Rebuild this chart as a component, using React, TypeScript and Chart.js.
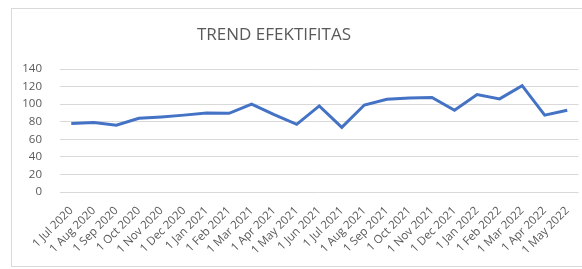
import React, { useEffect, useRef } from "react";
import { Chart, registerables } from "chart.js";
Chart.register(...registerables);

const categories = [
  "1 Jul 2020", "1 Aug 2020", "1 Sep 2020", "1 Oct 2020", "1 Nov 2020", "1 Dec 2020",
  "1 Jan 2021", "1 Feb 2021", "1 Mar 2021", "1 Apr 2021", "1 May 2021", "1 Jun 2021",
  "1 Jul 2021", "1 Aug 2021", "1 Sep 2021", "1 Oct 2021", "1 Nov 2021", "1 Dec 2021",
  "1 Jan 2022", "1 Feb 2022", "1 Mar 2022", "1 Apr 2022", "1 May 2022",
];
const efektifitas = [
  78, 79, 76, 84, 85.5, 87.5, 89.8, 89.5, 100, 88, 77, 98,
  73.5, 99, 105.5, 107, 107.5, 93, 111, 106, 121, 87.5, 93,
];
const yMax = 140;
const yStep = 20;
const titleText = "TREND EFEKTIFITAS";

const titlePlugin = {
  id: "customTitle",
  afterDraw(chart: any) {
    const ctx = chart.ctx;
    ctx.save();
    ctx.fillStyle = "#595959";
    ctx.font = "17px 'Open Sans'";
    ctx.textAlign = "center";
    ctx.textBaseline = "middle";
    ctx.fillText(titleText, 274, 35);
    ctx.restore();
  },
};

export default function App() {
  const ref = useRef<HTMLCanvasElement>(null);
  useEffect(() => {
    if (!ref.current) return;
    const chart = new Chart(ref.current, {
      type: "line",
      data: {
        labels: categories,
        datasets: [
          {
            label: "Efektifitas",
            data: efektifitas,
            borderColor: "#4472C4",
            backgroundColor: "#4472C4",
            borderWidth: 3,
            pointRadius: 0,
            tension: 0,
          },
        ],
      },
      options: {
        animation: false,
        responsive: false,
        layout: { padding: { left: 0, right: 3.5, top: 69, bottom: 0 } },
        plugins: {
          legend: { display: false },
          tooltip: { enabled: false },
          title: { display: false },
        },
        scales: {
          x: {
            offset: true,
            grid: { display: false },
            border: { display: false },
            ticks: {
              color: "#595959",
              font: { family: "Open Sans", size: 11.5 },
              maxRotation: 45,
              minRotation: 45,
              autoSkip: false,
              padding: 4,
            },
            afterFit: (s: any) => { s.height = 77; },
          },
          y: {
            min: 0,
            max: yMax,
            ticks: {
              stepSize: yStep,
              color: "#595959",
              font: { family: "Open Sans", size: 11.5 },
              padding: 18,
            },
            grid: { color: "#d9d9d9", drawTicks: false },
            border: { display: false },
            afterFit: (s: any) => { s.width = 60; },
          },
        },
      },
      plugins: [titlePlugin],
    });
    return () => chart.destroy();
  }, []);
  return (
    <div style={{ position: "absolute", left: 0, top: 0, width: 582, height: 269, background: "#fff" }}>
      <canvas ref={ref} width={582} height={269} style={{ position: "absolute", left: 0, top: 0 }} />
      <div
        style={{
          position: "absolute",
          left: 11,
          top: 8,
          width: 580,
          height: 259,
          border: "1px solid #d9d9d9",
          boxSizing: "border-box",
          pointerEvents: "none",
        }}
      />
    </div>
  );
}
